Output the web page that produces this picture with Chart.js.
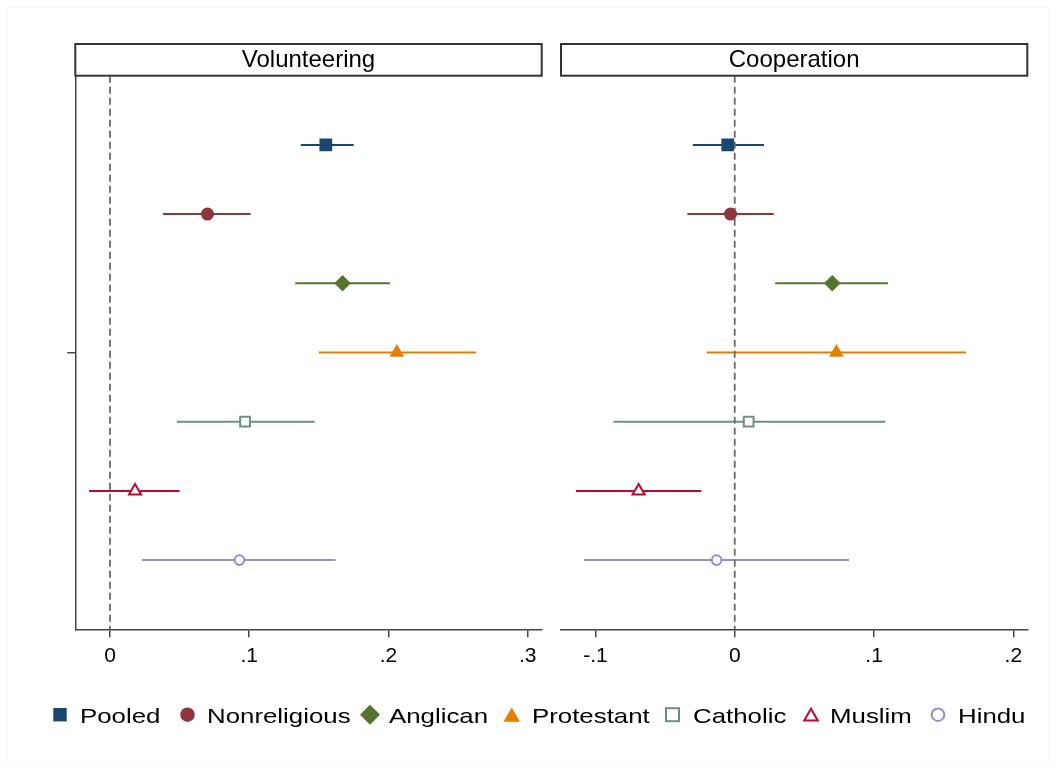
<!DOCTYPE html>
<html>
<head>
<meta charset="utf-8">
<script src="https://cdn.jsdelivr.net/npm/chart.js@4/dist/chart.umd.min.js"></script>
<style>
body { margin: 0; background: #fff; }
#wrap { position: relative; width: 1056px; height: 770px; overflow: hidden; font-family: "Liberation Sans", Arial, sans-serif; }
#frame { position: absolute; left: 7px; top: 7px; width: 1042px; height: 756px; border: 1px solid #f8f8f8; box-sizing: border-box; }
#c1 { position: absolute; left: 0; top: 0; }
#c2 { position: absolute; left: 552px; top: 0; }
#lgmarks { position: absolute; left: 0; top: 695px; }
.lgtext { position: absolute; top: 705px; font-size: 21px; line-height: 21px; color: #000; white-space: nowrap; transform: scaleX(1.23); transform-origin: left center; }
</style>
</head>
<body>
<div id="wrap">
  <div id="frame"></div>
  <canvas id="c1" width="552" height="700"></canvas>
  <canvas id="c2" width="504" height="700"></canvas>
  <svg id="lgmarks" width="1056" height="40"></svg>
</div>
<script>
// data
var groups = ['Pooled', 'Nonreligious', 'Anglican', 'Protestant', 'Catholic', 'Muslim', 'Hindu'];
var rows = [1, 2, 3, 4, 5, 6, 7];

var volEst = [0.155, 0.070, 0.167, 0.206, 0.097, 0.018, 0.093];
var volLo  = [0.137, 0.038, 0.133, 0.150, 0.048, -0.015, 0.023];
var volHi  = [0.175, 0.101, 0.201, 0.263, 0.147, 0.050, 0.162];

var coopEst = [-0.005, -0.003, 0.070, 0.073, 0.010, -0.069, -0.013];
var coopLo  = [-0.030, -0.034, 0.029, -0.020, -0.087, -0.114, -0.108];
var coopHi  = [0.021, 0.028, 0.110, 0.166, 0.108, -0.024, 0.082];

var volTicks = [0, 0.1, 0.2, 0.3];
var volTickLabels = ['0', '.1', '.2', '.3'];
var coopTicks = [-0.1, 0, 0.1, 0.2];
var coopTickLabels = ['-.1', '0', '.1', '.2'];

// estilos de los marcadores (paleta s2color)
var colors = ['#1a476f', '#90353b', '#55752f', '#e37e00', '#6e8e84', '#c10534', '#938dd2'];
var shapes = ['rect', 'circle', 'rectRot', 'triangle', 'rect', 'triangle', 'circle'];
var hollow = [false, false, false, false, true, true, true];
var radii = [9, 6.5, 8.3, 8.5, 6.9, 7, 4.8];

var FONT = '"Liberation Sans", Arial, sans-serif';

// caja del titulo de cada panel
var stripPlugin = {
  id: 'strip',
  afterDraw: function(chart) {
    var ca = chart.chartArea;
    var ctx = chart.ctx;
    ctx.save();
    ctx.fillStyle = '#fff';
    ctx.fillRect(ca.left, 44, ca.right - ca.left, ca.top - 44);
    ctx.strokeStyle = '#333';
    ctx.lineWidth = 2;
    ctx.strokeRect(ca.left, 44, ca.right - ca.left, ca.top - 44);
    ctx.fillStyle = '#000';
    ctx.font = '24px ' + FONT;
    ctx.textAlign = 'center';
    ctx.textBaseline = 'alphabetic';
    ctx.fillText(chart.options.plugins.strip.text, (ca.left + ca.right) / 2, 66.5);
    ctx.restore();
  }
};

function makeChart(id, title, est, lo, hi, ticks, tickLabels, xmin, xmax, showY, pad) {
  var datasets = [];
  // linea de referencia en cero
  datasets.push({
    data: [{x: 0, y: 0}, {x: 0, y: 8}],
    showLine: true,
    borderColor: '#6a6a6a',
    borderWidth: 1.8,
    borderDash: [7, 4],
    pointRadius: 0,
    order: 2
  });
  for (var i = 0; i < groups.length; i++) {
    // intervalo de confianza
    datasets.push({
      label: groups[i] + ' CI',
      data: [{x: lo[i], y: rows[i]}, {x: hi[i], y: rows[i]}],
      showLine: true,
      borderColor: colors[i],
      borderWidth: 2,
      pointRadius: 0,
      order: 3
    });
    // estimacion puntual
    datasets.push({
      label: groups[i],
      data: [{x: est[i], y: rows[i]}],
      pointStyle: shapes[i],
      pointRadius: radii[i],
      pointBackgroundColor: hollow[i] ? '#fff' : colors[i],
      pointBorderColor: colors[i],
      pointBorderWidth: hollow[i] ? 2 : 0,
      order: 1
    });
  }
  return new Chart(document.getElementById(id), {
    type: 'scatter',
    data: { datasets: datasets },
    plugins: [stripPlugin],
    options: {
      responsive: false,
      animation: false,
      layout: { padding: pad },
      plugins: {
        legend: { display: false },
        tooltip: { enabled: false },
        strip: { text: title }
      },
      scales: {
        x: {
          type: 'linear',
          min: xmin,
          max: xmax,
          afterBuildTicks: function(s) {
            s.ticks = ticks.map(function(v) { return {value: v}; });
          },
          afterFit: function(s) { s.height = 70.7; },
          ticks: {
            autoSkip: false,
            maxRotation: 0,
            padding: 6,
            color: '#000',
            font: { size: 21, family: FONT },
            callback: function(v, i) { return tickLabels[i]; }
          },
          grid: { drawOnChartArea: false, drawTicks: true, tickLength: 8, color: '#444', lineWidth: 1.5 },
          border: { display: true, color: '#444', width: 1.5 }
        },
        y: {
          type: 'linear',
          display: showY,
          min: 0,
          max: 8,
          reverse: true,
          afterBuildTicks: function(s) { s.ticks = [{value: 4}]; },
          afterFit: function(s) { s.width = showY ? 75.3 : 0; },
          ticks: { display: false },
          grid: { drawOnChartArea: false, drawTicks: true, tickLength: 8, color: '#444', lineWidth: 1.5 },
          border: { display: true, color: '#444', width: 1.5 }
        }
      }
    }
  });
}

makeChart('c1', 'Volunteering', volEst, volLo, volHi, volTicks, volTickLabels,
  -0.0249, 0.310, true, {top: 75.7, right: 10.3, bottom: 0, left: 0});
makeChart('c2', 'Cooperation', coopEst, coopLo, coopHi, coopTicks, coopTickLabels,
  -0.1247, 0.210, false, {top: 75.7, right: 28.7, bottom: 0, left: 9});

// leyenda
var lgMarkX = [60, 187.5, 370, 511.7, 672.5, 811, 938];
var lgTextX = [80, 206.7, 389.3, 531.7, 692.7, 830, 958.3];
var lgRadii = [9.5, 7.25, 10, 9.5, 9.2, 7.8, 6.3];
var svg = document.getElementById('lgmarks');
var NS = 'http://www.w3.org/2000/svg';
for (var i = 0; i < groups.length; i++) {
  var cx = lgMarkX[i], cy = 19.7, r = lgRadii[i], el;
  if (shapes[i] == 'rect') {
    var s = Math.SQRT1_2 * r;
    el = document.createElementNS(NS, 'rect');
    el.setAttribute('x', cx - s); el.setAttribute('y', cy - s);
    el.setAttribute('width', 2 * s); el.setAttribute('height', 2 * s);
  } else if (shapes[i] == 'circle') {
    el = document.createElementNS(NS, 'circle');
    el.setAttribute('cx', cx); el.setAttribute('cy', cy); el.setAttribute('r', r);
  } else if (shapes[i] == 'rectRot') {
    el = document.createElementNS(NS, 'polygon');
    el.setAttribute('points', [cx - r, cy, cx, cy - r, cx + r, cy, cx, cy + r].join(' '));
  } else {
    var ty = cy + r / 4;
    el = document.createElementNS(NS, 'polygon');
    el.setAttribute('points', [cx, ty - r, cx + r * 0.866, ty + r / 2, cx - r * 0.866, ty + r / 2].join(' '));
  }
  el.setAttribute('fill', hollow[i] ? '#fff' : colors[i]);
  if (hollow[i]) {
    el.setAttribute('stroke', colors[i]);
    el.setAttribute('stroke-width', 2);
  }
  svg.appendChild(el);
  var t = document.createElement('div');
  t.className = 'lgtext';
  t.style.left = lgTextX[i] + 'px';
  t.textContent = groups[i];
  document.getElementById('wrap').appendChild(t);
}
</script>
</body>
</html>
